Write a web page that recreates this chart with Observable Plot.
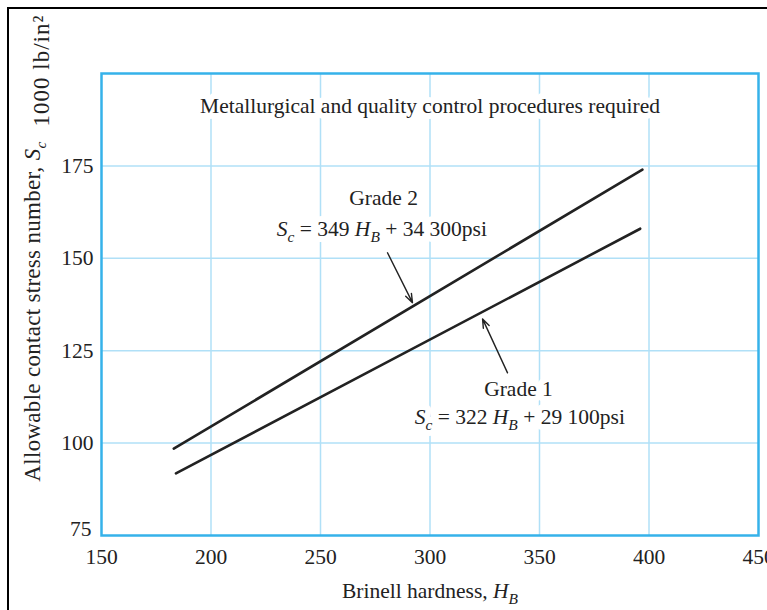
<!DOCTYPE html>
<html>
<head>
<meta charset="utf-8">
<script src="https://cdn.jsdelivr.net/npm/d3@7"></script>
<script src="https://cdn.jsdelivr.net/npm/@observablehq/plot@0.6"></script>
<style>
  html, body { margin: 0; padding: 0; background: #fff; }
  #wrap { position: relative; width: 767px; height: 610px; overflow: hidden; }
  #border { position: absolute; left: 7px; top: 7px; width: 800px; height: 700px;
            border-left: 2px solid #000; border-top: 2px solid #000; pointer-events: none; }
</style>
</head>
<body>
<div id="wrap"><div id="chart"></div><div id="border"></div></div>
<script>
// ---- data ----
const xTicks = [150, 200, 250, 300, 350, 400, 450];
const yTicks = [100, 125, 150, 175];
const yTickLow = [75];
const xGrid = [200, 250, 300, 350, 400];
const yGrid = [100, 125, 150, 175];

// Grade lines (Brinell hardness H_B, allowable contact stress, 1000 psi)
const grade1H = [184, 396];
const grade1S = [91.8, 158.0];
const grade2H = [183, 397];
const grade2S = [98.5, 174.0];

// Leader arrows (tail -> head)
const arrowX1 = [280.6, 335.4];
const arrowY1 = [151.5, 119.0];
const arrowX2 = [292.0, 324.0];
const arrowY2 = [138.0, 133.6];

// Annotation texts
const noteText = ["Metallurgical and quality control procedures required"];
const noteX = [300];
const noteY = [191.2];
const labelText = ["Grade 2", "S_c = 349 H_B + 34 300psi", "Grade 1", "S_c = 322 H_B + 29 100psi"];
const labelX = [278.8, 278.0, 340.4, 341.0];
const labelY = [166.4, 158.0, 114.7, 106.9];

const xLabel = ["Brinell hardness, H_B"];
const yLabel = ["Allowable contact stress number, S_c"];
const yUnit = ["1000 lb/in\u00B2"];

// ---- build tables ----
const lines = [
  ...grade1H.map((h, i) => ({grade: "Grade 1", h, s: grade1S[i]})),
  ...grade2H.map((h, i) => ({grade: "Grade 2", h, s: grade2S[i]}))
];
const arrows = arrowX1.map((x1, i) => ({x1, y1: arrowY1[i], x2: arrowX2[i], y2: arrowY2[i]}));
const notes = noteText.map((t, i) => ({t, x: noteX[i], y: noteY[i]}));
const labels = labelText.map((t, i) => ({t, x: labelX[i], y: labelY[i]}));

const ink = "#222";
const gridColor = "#b0e0f7";
const frameColor = "#36b2ea";
const FS = 21.5;

const chart = Plot.plot({
  width: 767,
  height: 610,
  marginLeft: 101,
  marginRight: 9,
  marginTop: 73,
  marginBottom: 75,
  style: {fontFamily: "'Liberation Serif', 'Times New Roman', serif", fontSize: FS + "px", color: ink, background: "#fff"},
  x: {domain: [150, 450], label: null},
  y: {domain: [75, 200], label: null},
  marks: [
    Plot.gridX(xGrid, {stroke: gridColor, strokeOpacity: 1, strokeWidth: 1.5}),
    Plot.gridY(yGrid, {stroke: gridColor, strokeOpacity: 1, strokeWidth: 1.5}),
    // white halo layers (drawn first so they never cover glyphs)
    Plot.text(notes, {x: "x", y: "y", text: "t", fill: "white", stroke: "white", strokeWidth: 12, fontSize: FS}),
    Plot.text(labels, {x: "x", y: "y", text: "t", fill: "white", stroke: "white", strokeWidth: 12, fontSize: FS}),
    // text layers
    Plot.text(notes, {x: "x", y: "y", text: "t", fill: ink, fontSize: FS}),
    Plot.text(labels, {x: "x", y: "y", text: "t", fill: ink, fontSize: FS}),
    Plot.frame({stroke: frameColor, strokeWidth: 2.5}),
    Plot.line(lines, {x: "h", y: "s", z: "grade", stroke: ink, strokeWidth: 2.6}),
    Plot.arrow(arrows, {x1: "x1", y1: "y1", x2: "x2", y2: "y2", stroke: ink, strokeWidth: 1.4, headLength: 10, headAngle: 40}),
    Plot.axisX(xTicks, {tickSize: 0, tickPadding: 13, fontSize: FS, label: null}),
    Plot.axisY(yTicks, {tickSize: 0, tickPadding: 8, fontSize: FS, label: null}),
    Plot.axisY(yTickLow, {tickSize: 0, tickPadding: 10, fontSize: FS, dy: -6, label: null}),
    Plot.text(xLabel, {text: d => d, frameAnchor: "bottom", dy: 62, fill: ink, fontSize: FS}),
    Plot.text(yLabel, {text: d => d, frameAnchor: "left", textAnchor: "middle", dx: -69, dy: 7, rotate: -90, fill: ink, fontSize: 23}),
    Plot.text(yUnit, {text: d => d, frameAnchor: "top-left", textAnchor: "middle", dx: -69, dy: -3, rotate: -90, fill: ink, fontSize: 23})
  ]
});

// italic variable names with italic subscripts (S_c, H_B)
const NS = "http://www.w3.org/2000/svg";
d3.select(chart).selectAll("text").each(function () {
  const el = this;
  const s0 = el.textContent;
  if (s0 === yLabel[0]) el.style.letterSpacing = "0.3px";
  if (s0 === yUnit[0]) el.style.letterSpacing = "1px";
  if (el.querySelector("tspan")) return;
  const s = el.textContent;
  if (!s.includes("_")) return;
  const fs = parseFloat(el.getAttribute("font-size") || getComputedStyle(el).fontSize) || FS;
  const shift = Math.round(fs * 0.28);
  el.textContent = "";
  const re = /([A-Z])_([A-Za-z])/g;
  let last = 0, m, pendingRestore = false;
  const add = (txt, opts = {}) => {
    const t = document.createElementNS(NS, "tspan");
    t.textContent = txt;
    if (opts.italic) t.setAttribute("font-style", "italic");
    if (opts.small) t.setAttribute("font-size", (fs * 0.72).toFixed(1));
    if (opts.dy) t.setAttribute("dy", opts.dy);
    el.appendChild(t);
  };
  while ((m = re.exec(s))) {
    if (m.index > last) { add(s.slice(last, m.index), pendingRestore ? {dy: -shift} : {}); pendingRestore = false; }
    add(m[1], Object.assign({italic: true}, pendingRestore ? {dy: -shift} : {}));
    add(m[2], {italic: true, small: true, dy: shift});
    pendingRestore = true;
    last = re.lastIndex;
  }
  if (last < s.length) add(s.slice(last), pendingRestore ? {dy: -shift} : {});
});

document.getElementById("chart").appendChild(chart);
</script>
</body>
</html>
